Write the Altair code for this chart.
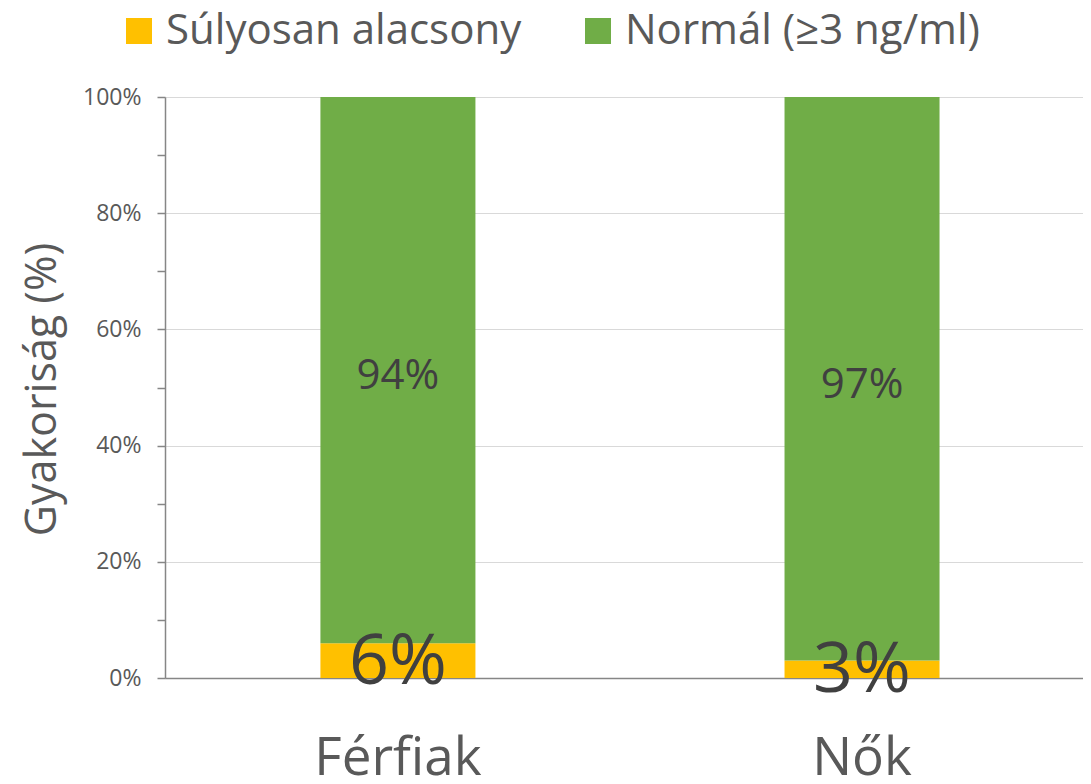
import altair as alt
import pandas as pd

categories = ["Férfiak", "Nők"]
series = ["Súlyosan alacsony", "Normál (≥3 ng/ml)"]
low_values = [6, 3]
normal_values = [94, 97]
colors = ["#FFC000", "#70AD47"]
tick_values = [0, 0.1, 0.2, 0.3, 0.4, 0.5, 0.6, 0.7, 0.8, 0.9, 1.0]

rows = []
for i, c in enumerate(categories):
    start = 0
    for s, v in zip(series, [low_values[i], normal_values[i]]):
        rows.append({"cat": c, "series": s, "order": series.index(s),
                     "y0": start / 100, "y1": (start + v) / 100,
                     "mid": (start + v / 2) / 100, "label": f"{v}%"})
        start += v
df = pd.DataFrame(rows)

FONT = "Open Sans"
TXT = "#595959"
AX = "#868686"
major = "round(datum.value * 10) % 2 == 0"

base = alt.Chart(df)

x = alt.X("cat:N", sort=categories, title=None,
          scale=alt.Scale(paddingInner=0.666, paddingOuter=0.322, align=0.52),
          axis=alt.Axis(labelAngle=0, labelFontSize=53, labelColor=TXT, labelFont=FONT,
                        ticks=False, tickSize=0, labelPadding=96, labelBaseline="alphabetic",
                        domainColor=AX, domainWidth=1.5, grid=False))

bars = base.mark_bar().encode(
    x=x,
    y=alt.Y("y0:Q", scale=alt.Scale(domain=[0, 1]),
            axis=alt.Axis(values=tick_values, format=".0%",
                          labelExpr=f"{major} ? datum.label : ''",
                          gridOpacity={"condition": {"test": major, "value": 1}, "value": 0},
                          title="Gyakoriság (%)", titleFontSize=43, titleFont=FONT,
                          titleColor=TXT, titleFontWeight="normal",
                          titleAngle=270, titleX=-123, titleY=292,
                          titleAlign="center", titleBaseline="middle",
                          labelFontSize=23, labelColor=TXT, labelFont=FONT,
                          tickSize=8, tickColor=AX, tickWidth=1.5, labelPadding=16,
                          domainColor=AX, domainWidth=1.5,
                          gridColor="#D9D9D9", gridWidth=1.2)),
    y2="y1:Q",
    color=alt.Color("series:N", sort=series,
                    scale=alt.Scale(domain=series, range=colors),
                    legend=alt.Legend(title=None, orient="none", direction="horizontal",
                                      legendX=-47, legendY=-87, symbolType="square",
                                      symbolSize=676, symbolStrokeWidth=0,
                                      labelFontSize=42, labelColor=TXT, labelFont=FONT,
                                      labelOffset=6, columnPadding=55, padding=0,
                                      labelLimit=600)),
    order=alt.Order("order:Q"),
)

big = base.transform_filter(alt.datum.order == 0).mark_text(
    fontSize=70, color="#404040", font=FONT, baseline="middle", dy=2
).encode(x=alt.X("cat:N", sort=categories), y="mid:Q", text="label:N")

small = base.transform_filter(alt.datum.order == 1).mark_text(
    fontSize=42, color="#404040", font=FONT, baseline="middle", dy=6
).encode(x=alt.X("cat:N", sort=categories), y="mid:Q", text="label:N")

chart = alt.layer(bars, small, big).properties(
    width=918, height=581,
    autosize=alt.AutoSizeParams(type="none"),
    padding={"left": 157, "top": 89, "right": 0, "bottom": 98},
).configure_view(stroke=None).configure(background="white")

chart.save("out.html", embed_options={"renderer": "svg", "actions": False})
